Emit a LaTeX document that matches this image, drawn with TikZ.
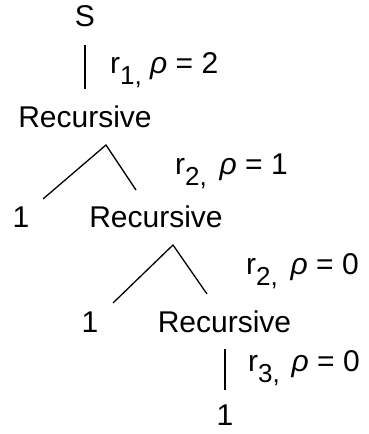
\documentclass[tikz,border=0pt]{standalone}
\usepackage{fontspec}
\setmainfont{Liberation Sans}
\newcommand{\rlab}[3]{r\raisebox{-11pt}{\fontsize{26}{30}\selectfont #1,}\hspace{#3} {\itshape ρ} = #2}
\tikzset{
  txt/.style={font=\fontsize{30}{36}\selectfont, inner sep=0pt, anchor=base},
  lab/.style={txt, anchor=base west},
  edge/.style={line width=1.3pt, line cap=butt}
}
\begin{document}
\begin{tikzpicture}[x=1pt,y=1pt]
\useasboundingbox (0,0) rectangle (368,434);
% nodes
\node[txt] (s)    at (85,407)  {S};
\node[txt] (rec1) at (85,306)  {Recursive};
\node[txt] (one1) at (21,206)  {1};
\node[txt] (rec2) at (156,206) {Recursive};
\node[txt] (one2) at (90,101)  {1};
\node[txt] (rec3) at (224.5,101) {Recursive};
\node[txt] (one3) at (225,9)   {1};
% labels
\node[lab] (lab1) at (110,360) {\rlab{1}{2}{0pt}};
\node[lab] (lab2) at (175,259) {\rlab{2}{1}{4.5pt}};
\node[lab] (lab3) at (246,159) {\rlab{2}{0}{4.5pt}};
\node[lab] (lab4) at (248,62)  {\rlab{3}{0}{3.5pt}};
% connector ends
\coordinate (c1a) at (85,389);
\coordinate (c1b) at (85,345);
\coordinate (t1a) at (106,289);
\coordinate (t1l) at (43,235);
\coordinate (t1r) at (136,244);
\coordinate (t2a) at (173,189);
\coordinate (t2l) at (113,131);
\coordinate (t2r) at (207,140);
\coordinate (c3a) at (225,85);
\coordinate (c3b) at (225,44);
% connectors
\draw[edge] (c1a) -- (c1b);
\draw[edge] (t1l) -- (t1a) -- (t1r);
\draw[edge] (t2l) -- (t2a) -- (t2r);
\draw[edge] (c3a) -- (c3b);
\end{tikzpicture}
\end{document}
